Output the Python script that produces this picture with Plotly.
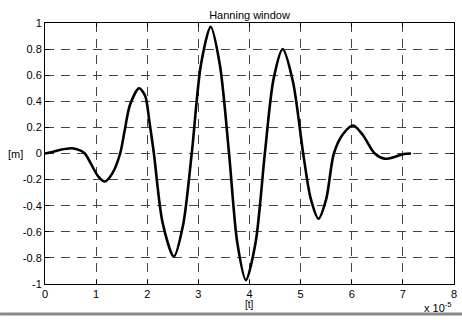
import plotly.graph_objects as go

t_vals = [0.00, 0.15, 0.30, 0.52, 0.66, 0.78, 0.90, 1.04, 1.17, 1.32, 1.47, 1.56, 1.66,
          1.84, 1.96, 2.04, 2.13, 2.30, 2.52, 2.70, 2.87, 3.05, 3.24, 3.42, 3.60, 3.76,
          3.93, 4.12, 4.30, 4.47, 4.65, 4.85, 5.05, 5.20, 5.35, 5.50, 5.65, 5.83, 6.03,
          6.22, 6.45, 6.65, 6.85, 7.00, 7.16]
m_vals = [0.000, 0.012, 0.028, 0.040, 0.028, 0.000, -0.080, -0.175, -0.215, -0.150, 0.000,
          0.180, 0.370, 0.500, 0.440, 0.250, 0.000, -0.530, -0.790, -0.550, 0.000, 0.680,
          0.970, 0.680, 0.000, -0.680, -0.970, -0.680, 0.000, 0.570, 0.800, 0.550, 0.000,
          -0.350, -0.500, -0.350, 0.000, 0.150, 0.215, 0.140, 0.000, -0.040, -0.025,
          -0.005, 0.000]

x_ticks = [0, 1, 2, 3, 4, 5, 6, 7, 8]
y_ticks = [-1, -0.8, -0.6, -0.4, -0.2, 0, 0.2, 0.4, 0.6, 0.8, 1]
y_tick_text = ["-1", "-0.8", "-0.6", "-0.4", "-0.2", "0", "0.2", "0.4", "0.6", "0.8", "1"]

font = "Liberation Sans, Arial, sans-serif"

fig = go.Figure()
fig.add_trace(go.Scatter(x=t_vals, y=m_vals, mode="lines",
                         line=dict(color="black", width=2.6, shape="spline", smoothing=0.8),
                         hoverinfo="skip", showlegend=False))

axis_common = dict(showline=True, linecolor="black", linewidth=1, mirror="ticks",
                   ticks="inside", ticklen=4, tickcolor="black", automargin=False,
                   showgrid=True, gridcolor="#454545", gridwidth=1, griddash="9px,7px",
                   zeroline=False, tickfont=dict(family=font, size=11, color="black"))

fig.update_xaxes(range=[0, 8], tickvals=x_ticks, ticktext=[str(v) for v in x_ticks], **axis_common)
fig.update_yaxes(range=[-1, 1], tickvals=y_ticks, ticktext=y_tick_text, **axis_common)

fig.update_layout(
    width=462, height=324,
    margin=dict(l=45, r=8, t=23, b=40, autoexpand=False),
    paper_bgcolor="white", plot_bgcolor="white",
    title=dict(text="Hanning window", x=0.5, xref="paper", y=1, yref="paper",
               yanchor="bottom", pad=dict(b=4), automargin=False,
               font=dict(family=font, size=11, color="black")),
    annotations=[
        dict(text="[m]", xref="paper", yref="y", x=-0.072, y=0, showarrow=False,
             xanchor="center", yanchor="middle", font=dict(family=font, size=11, color="black")),
        dict(text="[t]", xref="x", yref="paper", x=4, y=-0.05, showarrow=False,
             xanchor="center", yanchor="top", font=dict(family=font, size=10, color="black")),
        dict(text="x 10<sup>-5</sup>", xref="paper", yref="paper", x=1.0, y=-0.055,
             showarrow=False, xanchor="right", yanchor="top",
             font=dict(family=font, size=11, color="black")),
    ],
    shapes=[
        dict(type="line", xref="paper", yref="paper", x0=-0.11, x1=1.02, y0=-0.115, y1=-0.115,
             line=dict(color="#8a8a8a", width=3)),
    ],
)

fig.write_html("out.html", config={"displayModeBar": False},
               post_script="document.body.style.margin='0px';")
